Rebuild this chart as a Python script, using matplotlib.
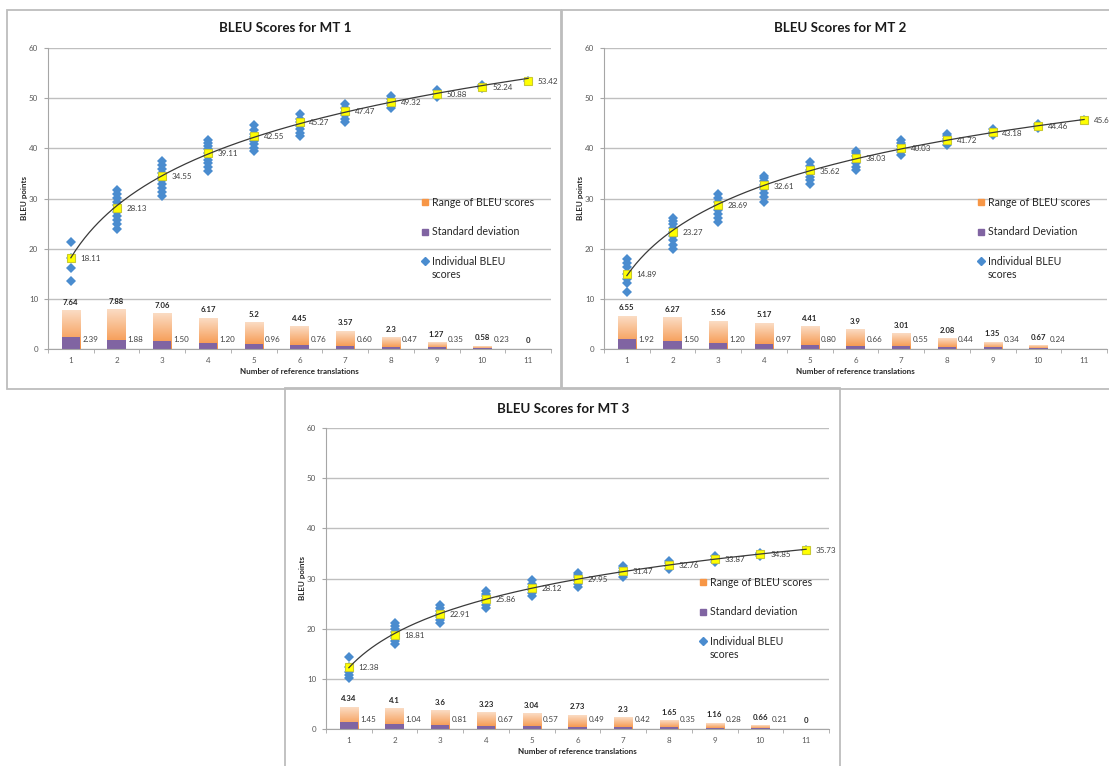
import numpy as np
import matplotlib
matplotlib.use("Agg")
import matplotlib.pyplot as plt
from matplotlib.patches import Rectangle
from matplotlib.lines import Line2D
from matplotlib.colors import LinearSegmentedColormap

plt.rcParams['font.family'] = ['Lato', 'DejaVu Sans']

refs = ['1', '2', '3', '4', '5', '6', '7', '8', '9', '10', '11']

# MT 1
mt1_means = [18.11, 28.13, 34.55, 39.11, 42.55, 45.27, 47.47, 49.32, 50.88, 52.24, 53.42]
mt1_ranges = [7.64, 7.88, 7.06, 6.17, 5.2, 4.45, 3.57, 2.3, 1.27, 0.58, 0]
mt1_stds = [2.39, 1.88, 1.50, 1.20, 0.96, 0.76, 0.60, 0.47, 0.35, 0.23]
mt1_scores = [
    [13.6, 16.1, 18.1, 21.24],
    [23.85, 24.9, 25.8, 26.6, 27.3, 28.0, 28.7, 29.4, 30.1, 30.9, 31.73],
    [30.4, 31.3, 32.1, 32.9, 33.6, 34.3, 35.0, 35.8, 36.6, 37.46],
    [35.4, 36.2, 37.0, 37.7, 38.4, 39.1, 39.8, 40.5, 41.0, 41.57],
    [39.4, 40.1, 40.8, 41.5, 42.2, 42.9, 43.6, 44.6],
    [42.4, 43.1, 43.8, 44.5, 45.2, 45.9, 46.85],
    [45.25, 45.9, 46.6, 47.3, 48.0, 48.82],
    [48.05, 48.6, 49.2, 49.8, 50.35],
    [50.3, 50.9, 51.57],
    [51.95, 52.24, 52.53],
    [53.42],
]

# MT 2
mt2_means = [14.89, 23.27, 28.69, 32.61, 35.62, 38.03, 40.03, 41.72, 43.18, 44.46, 45.6]
mt2_ranges = [6.55, 6.27, 5.56, 5.17, 4.41, 3.9, 3.01, 2.08, 1.35, 0.67]
mt2_stds = [1.92, 1.50, 1.20, 0.97, 0.80, 0.66, 0.55, 0.44, 0.34, 0.24]
mt2_scores = [
    [11.3, 13.2, 13.9, 14.9, 16.4, 17.1, 17.85],
    [19.9, 20.8, 21.7, 22.5, 23.3, 24.1, 24.9, 25.5, 26.17],
    [25.3, 26.1, 26.9, 27.7, 28.5, 29.3, 30.1, 30.86],
    [29.4, 30.2, 31.0, 31.8, 32.6, 33.4, 34.0, 34.57],
    [32.85, 33.6, 34.3, 35.0, 35.7, 36.4, 37.26],
    [35.6, 36.3, 37.0, 37.7, 38.4, 39.0, 39.5],
    [38.6, 39.2, 39.8, 40.4, 41.0, 41.61],
    [40.7, 41.3, 41.9, 42.4, 42.78],
    [42.6, 43.2, 43.95],
    [44.1, 44.46, 44.77],
    [45.6],
]

# MT 3
mt3_means = [12.38, 18.81, 22.91, 25.86, 28.12, 29.95, 31.47, 32.76, 33.87, 34.85, 35.73]
mt3_ranges = [4.34, 4.1, 3.6, 3.23, 3.04, 2.73, 2.3, 1.65, 1.16, 0.66, 0]
mt3_stds = [1.45, 1.04, 0.81, 0.67, 0.57, 0.49, 0.42, 0.35, 0.28, 0.21]
mt3_scores = [
    [10.1, 10.8, 11.3, 12.4, 14.44],
    [17.0, 17.6, 18.2, 18.8, 19.4, 20.0, 20.6, 21.1],
    [21.2, 21.8, 22.4, 23.0, 23.6, 24.2, 24.8],
    [24.2, 24.8, 25.4, 26.0, 26.6, 27.0, 27.43],
    [26.6, 27.2, 27.8, 28.4, 29.0, 29.64],
    [28.4, 29.0, 29.6, 30.2, 30.7, 31.13],
    [30.2, 30.8, 31.4, 32.0, 32.5],
    [31.9, 32.5, 33.0, 33.55],
    [33.25, 33.8, 34.41],
    [34.5, 34.85, 35.16],
    [35.73],
]

W, H = 1109, 766
ORANGE = '#F79646'
PURPLE = '#8064A2'
BLUE = '#4A8CCF'
GRID = '#BFBFBF'
grad_cmap = LinearSegmentedColormap.from_list('bar', ['#F58F3E', '#FBDCC4'])


def px_axes(fig, left, top, right, bottom):
    return fig.add_axes([left / W, 1 - bottom / H, (right - left) / W, (bottom - top) / H])


def panel_box(fig, left, top, right, bottom):
    fig.add_artist(Rectangle((left / W, 1 - bottom / H), (right - left) / W, (bottom - top) / H,
                             transform=fig.transFigure, fill=False, ec='#BDBDBD', lw=1.3))


def draw_panel(ax, means, ranges, stds, scores, std_name):
    pos = np.arange(len(refs))
    ax.set_xlim(-0.5, len(refs) - 0.5)
    ax.set_ylim(0, 60)
    ax.set_yticks(np.arange(0, 61, 10))
    ax.yaxis.grid(True, color=GRID, lw=1.0, zorder=0)
    ax.set_axisbelow(True)

    # range bars with orange gradient
    bars = ax.bar(pos[:len(ranges)], ranges, width=0.4, color='none', zorder=1)
    grad = np.linspace(0, 1, 100).reshape(-1, 1)
    for b in bars:
        if b.get_height() <= 0:
            continue
        ax.imshow(grad, extent=[b.get_x(), b.get_x() + b.get_width(), 0, b.get_height()],
                  origin='lower', aspect='auto', cmap=grad_cmap, zorder=1)
    ax.bar(pos[:len(stds)], stds, width=0.4, color=PURPLE, zorder=2)

    for i, s in enumerate(scores):
        ax.plot([pos[i]] * len(s), s, 'D', color=BLUE, ms=5.6, mew=0, zorder=3)

    ax.plot(pos, means, 's', mfc='#FFFF00', mec='#C9C930', mew=0.8, ms=5.2, zorder=4)

    # logarithmic trendline
    n = np.arange(1, len(refs) + 1)
    a, c = np.polyfit(np.log(n), means, 1)
    xs = np.linspace(1, len(refs), 200)
    ax.plot(xs - 1, a * np.log(xs) + c, color='#3A3A3A', lw=0.9, zorder=5)

    for i, m in enumerate(means):
        ax.annotate(f'{m:g}' if i == len(means) - 1 else f'{m:.2f}', (pos[i], m), xytext=(7, -0.5),
                    textcoords='offset points', ha='left', va='center', fontsize=5.8, color='#404040')
    for i, r in enumerate(ranges):
        ax.annotate(f'{r:g}', (pos[i], r), xytext=(0, 3.5), textcoords='offset points',
                    ha='center', va='bottom', fontsize=5.6, fontweight='bold', color='#262626')
    for i, s in enumerate(stds):
        ax.annotate(f'{s:.2f}', (pos[i] + 0.2, 1.8), xytext=(1.5, 0), textcoords='offset points',
                    ha='left', va='center', fontsize=5.8, color='#404040')

    ax.set_xticks(pos)
    ax.set_xticklabels(refs)
    ax.set_xticks(np.arange(-0.5, len(refs), 1), minor=True)
    ax.tick_params(axis='x', which='major', length=0, pad=6, labelsize=5.8, labelcolor='#595959')
    ax.tick_params(axis='x', which='minor', length=3, direction='out', color='#A6A6A6')
    ax.tick_params(axis='y', length=3, direction='out', color='#A6A6A6', pad=4,
                   labelsize=5.8, labelcolor='#595959')
    for side in ['top', 'right']:
        ax.spines[side].set_visible(False)
    ax.spines['left'].set_color('#A6A6A6')
    ax.spines['bottom'].set_color('#A6A6A6')
    ax.set_xlabel('Number of reference translations', fontsize=5.8, fontweight='bold',
                  color='#262626', labelpad=3)
    ax.set_ylabel('BLEU points', fontsize=5.8, fontweight='bold', color='#262626', labelpad=1)

    handles = [
        Line2D([], [], ls='none', marker='s', ms=4.5, color=ORANGE),
        Line2D([], [], ls='none', marker='s', ms=4.5, color=PURPLE),
        Line2D([], [], ls='none', marker='D', ms=3.8, color=BLUE),
    ]
    labels = ['Range of BLEU scores', std_name, 'Individual BLEU']
    leg = ax.legend(handles, labels, loc='upper left', bbox_to_anchor=(0.745, 0.505), frameon=False,
                    fontsize=7.6, handlelength=0.5, handletextpad=0.35, labelspacing=1.75,
                    borderpad=0, borderaxespad=0, labelcolor='#262626')
    # second line of the last legend entry, drawn after the legend
    ax.annotate('scores', xy=(0, 0), xycoords=leg.get_texts()[2], xytext=(0, -1.5),
                textcoords='offset points', ha='left', va='top', fontsize=7.6, color='#262626',
                zorder=10)


fig = plt.figure(figsize=(W / 100, H / 100), dpi=100)
fig.patch.set_facecolor('white')

panel_box(fig, 7, 10, 561, 389)
panel_box(fig, 562, 10, 1118, 389)
panel_box(fig, 285, 388, 840, 772)

ax1 = px_axes(fig, 48, 48, 551, 349)
draw_panel(ax1, mt1_means, mt1_ranges, mt1_stds, mt1_scores, 'Standard deviation')
ax2 = px_axes(fig, 604, 48, 1107, 349)
draw_panel(ax2, mt2_means, mt2_ranges, mt2_stds, mt2_scores, 'Standard Deviation')
ax3 = px_axes(fig, 326, 428, 829, 729)
draw_panel(ax3, mt3_means, mt3_ranges, mt3_stds, mt3_scores, 'Standard deviation')

fig.text(285 / W, 1 - 28 / H, 'BLEU Scores for MT 1', ha='center', va='center',
         fontsize=9.6, fontweight='bold', color='#1A1A1A')
fig.text(840 / W, 1 - 28 / H, 'BLEU Scores for MT 2', ha='center', va='center',
         fontsize=9.6, fontweight='bold', color='#1A1A1A')
fig.text(563 / W, 1 - 409 / H, 'BLEU Scores for MT 3', ha='center', va='center',
         fontsize=9.6, fontweight='bold', color='#1A1A1A')

fig.savefig('out.png', dpi=100)
